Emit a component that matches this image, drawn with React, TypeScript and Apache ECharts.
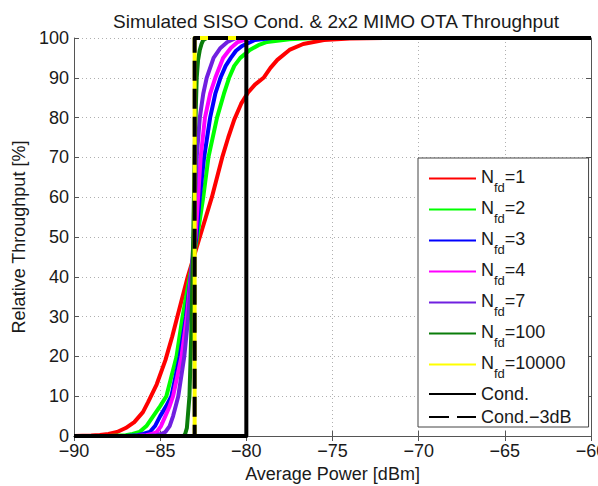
import React, { useEffect, useRef } from "react";
import * as echarts from "echarts";

// Average power [dBm] / relative throughput [%]
const powerNfd1 = [-90, -89, -88.5, -88, -87.5, -87, -86.5, -86, -85.7, -85.2, -84.7, -84.3, -84.0, -83.4, -82.7, -82.0, -81.4, -81.05, -80.7, -80.3, -79.9, -79.5, -79.0, -78.6, -78.2, -77.5, -76.7, -75.5, -74, -72, -60];
const thrNfd1 = [0, 0.1, 0.25, 0.5, 1, 2, 3.5, 6, 8.5, 13, 19, 25, 30, 40, 50, 60, 70, 75, 79.5, 83.5, 86.3, 88.3, 90, 92.5, 94.5, 97, 98.5, 99.5, 99.9, 100, 100];

const powerNfd2 = [-90, -88, -87, -86.6, -86.2, -85.8, -85.4, -85.0, -84.64, -84.05, -83.7, -83.2, -82.85, -82.5, -82.2, -81.7, -81.3, -81.0, -80.7, -80.35, -79.8, -79.3, -78.8, -77.5, -76, -60];
const thrNfd2 = [0, 0, 0.2, 0.5, 1, 2.5, 5, 7.5, 10, 20, 30, 42, 50, 60, 70, 80, 86, 90, 93, 95, 97, 98.2, 99, 99.7, 100, 100];

const powerNfd3 = [-90, -87, -86.3, -86.0, -85.6, -85.3, -85.0, -84.65, -84.35, -83.86, -83.5, -83.15, -82.9, -82.7, -82.45, -82.1, -81.8, -81.5, -81.2, -80.9, -80.6, -80.25, -79.5, -78.5, -60];
const thrNfd3 = [0, 0, 0.2, 0.5, 1, 2.5, 5, 7.5, 10, 20, 30, 43, 50, 60, 70, 80, 86, 90, 93, 95, 96.8, 98, 99.5, 100, 100];

const powerNfd4 = [-90, -86.5, -85.8, -85.5, -85.2, -84.95, -84.7, -84.45, -84.25, -83.76, -83.45, -83.15, -82.95, -82.8, -82.65, -82.4, -82.1, -81.8, -81.35, -80.9, -80.5, -79.8, -60];
const thrNfd4 = [0, 0, 0.2, 0.5, 1, 2.5, 5, 7.5, 10, 20, 30, 43, 50, 60, 70, 80, 86, 90, 95, 97.5, 99, 100, 100];

const powerNfd7 = [-90, -85.8, -85.2, -84.95, -84.7, -84.45, -84.25, -84.1, -83.95, -83.6, -83.37, -83.15, -83.05, -82.97, -82.88, -82.7, -82.5, -82.3, -81.9, -81.5, -81.1, -80.6, -60];
const thrNfd7 = [0, 0, 0.2, 0.5, 1, 2.5, 5, 7.5, 10, 20, 30, 43, 50, 60, 70, 80, 86, 90, 95, 97.5, 99, 100, 100];

const powerNfd100 = [-90, -83.7, -83.6, -83.55, -83.45, -83.3, -83.2, -83.08, -82.98, -82.88, -82.8, -82.7, -82.6, -82.5, -82.3, -60];
const thrNfd100 = [0, 0, 0.2, 0.5, 2, 10, 25, 50, 75, 90, 94.5, 97, 98.5, 99.5, 100, 100];

const powerNfd10000 = [-90, -83, -83, -60];
const thrNfd10000 = [0, 0, 100, 100];

const powerCond = [-90, -80, -80, -60];
const thrCond = [0, 0, 100, 100];

const powerCond3dB = [-90, -83, -83, -60];
const thrCond3dB = [0, 0, 100, 100];

const xTicks = [-90, -85, -80, -75, -70, -65, -60];
const yTicks = [0, 10, 20, 30, 40, 50, 60, 70, 80, 90, 100];

const FONT = "Liberation Sans";
const TXT = "#1a1a1a";
const minus = (v: number) => String(v).replace("-", "\u2212");

const zip = (xs: number[], ys: number[]) => xs.map((x, i) => [x, ys[i]]);

const defs = [
  { name: "Nfd=1", x: powerNfd1, y: thrNfd1, color: "#ff0000" },
  { name: "Nfd=2", x: powerNfd2, y: thrNfd2, color: "#00ff00" },
  { name: "Nfd=3", x: powerNfd3, y: thrNfd3, color: "#0000ff" },
  { name: "Nfd=4", x: powerNfd4, y: thrNfd4, color: "#ff00ff" },
  { name: "Nfd=7", x: powerNfd7, y: thrNfd7, color: "#7020e0" },
  { name: "Nfd=100", x: powerNfd100, y: thrNfd100, color: "#0a7d0a" },
  { name: "Nfd=10000", x: powerNfd10000, y: thrNfd10000, color: "#ffff00" },
  { name: "Cond.", x: powerCond, y: thrCond, color: "#000000" },
  { name: "Cond.\u22123dB", x: powerCond3dB, y: thrCond3dB, color: "#000000", dashed: true },
];

export default function App() {
  const ref = useRef<HTMLDivElement>(null);
  useEffect(() => {
    const chart = echarts.init(ref.current!, null, { renderer: "svg" });
    const axisLine = { show: true, lineStyle: { color: "#555", width: 1 } };
    const tick = { show: true, inside: true, length: 5, lineStyle: { color: "#555" } };
    const grid = { show: true, lineStyle: { color: "#b0b0b0", type: [1, 3], width: 1 } };
    const option: any = {
      animation: false,
      backgroundColor: "#fff",
      textStyle: { fontFamily: FONT },
      title: {
        text: "Simulated SISO Cond. & 2x2 MIMO OTA Throughput",
        left: 331,
        top: 7,
        textAlign: "center",
        textStyle: { fontFamily: FONT, fontSize: 19, fontWeight: "normal", color: TXT },
      },
      grid: { left: 74, top: 38, right: 7, bottom: 50, containLabel: false, outerBoundsMode: "none" },
      xAxis: [
        {
          type: "value",
          min: xTicks[0],
          max: xTicks[xTicks.length - 1],
          interval: 5,
          position: "bottom",
          name: "Average Power [dBm]",
          nameLocation: "middle",
          nameGap: 24,
          nameTextStyle: { fontFamily: FONT, fontSize: 18, color: TXT, verticalAlign: "top" },
          axisLine,
          axisTick: tick,
          axisLabel: { formatter: minus, fontFamily: FONT, fontSize: 18, color: TXT, margin: 9, lineHeight: 12 },
          splitLine: grid,
        },
        {
          type: "value",
          min: xTicks[0],
          max: xTicks[xTicks.length - 1],
          interval: 5,
          position: "top",
          axisLine,
          axisTick: tick,
          axisLabel: { show: false },
          splitLine: { show: false },
        },
      ],
      yAxis: [
        {
          type: "value",
          min: yTicks[0],
          max: yTicks[yTicks.length - 1],
          interval: 10,
          position: "left",
          name: "Relative Throughput [%]",
          nameLocation: "middle",
          nameGap: 42,
          nameRotate: 90,
          nameTextStyle: { fontFamily: FONT, fontSize: 18, color: TXT },
          axisLine,
          axisTick: tick,
          axisLabel: { fontFamily: FONT, fontSize: 18, color: TXT, margin: 5, lineHeight: 10 },
          splitLine: grid,
        },
        {
          type: "value",
          min: yTicks[0],
          max: yTicks[yTicks.length - 1],
          interval: 10,
          position: "right",
          axisLine,
          axisTick: tick,
          axisLabel: { show: false },
          splitLine: { show: false },
        },
      ],
      legend: {
        orient: "vertical",
        left: 418,
        top: 158,
        height: 320,
        backgroundColor: "#fff",
        borderColor: "#444",
        borderWidth: 1,
        borderRadius: 0,
        padding: [10, 17, 1, 10],
        itemWidth: 47,
        itemHeight: 2,
        itemGap: 5,
        itemStyle: { opacity: 0 },
        data: defs.map((d) => d.name),
        formatter: (name: string) =>
          name.startsWith("Nfd") ? `{n|N}{s|fd}{n|${name.slice(3)}}` : `{c|${name}}`,
        textStyle: {
          fontFamily: FONT,
          fontSize: 18,
          color: TXT,
          rich: {
            n: { fontFamily: FONT, fontSize: 18, color: TXT, verticalAlign: "top", padding: [5, 0, 0, 0] },
            s: { fontFamily: FONT, fontSize: 13, color: TXT, verticalAlign: "top", padding: [18, 0, 0, 0] },
            c: { fontFamily: FONT, fontSize: 18, color: TXT },
          },
        },
      },
      series: defs.map((d) => ({
        name: d.name,
        type: "line",
        xAxisIndex: 0,
        yAxisIndex: 0,
        data: zip(d.x, d.y),
        showSymbol: false,
        symbol: "none",
        smooth: false,
        lineStyle: { color: d.color, width: 4, type: d.dashed ? [20, 8] : "solid", cap: "butt", join: "round" },
        itemStyle: { color: d.color },
        emphasis: { disabled: true },
      })),
    };
    chart.setOption(option);
    return () => chart.dispose();
  }, []);
  return <div ref={ref} style={{ position: "absolute", left: 0, top: 0, width: 598, height: 486 }} />;
}
